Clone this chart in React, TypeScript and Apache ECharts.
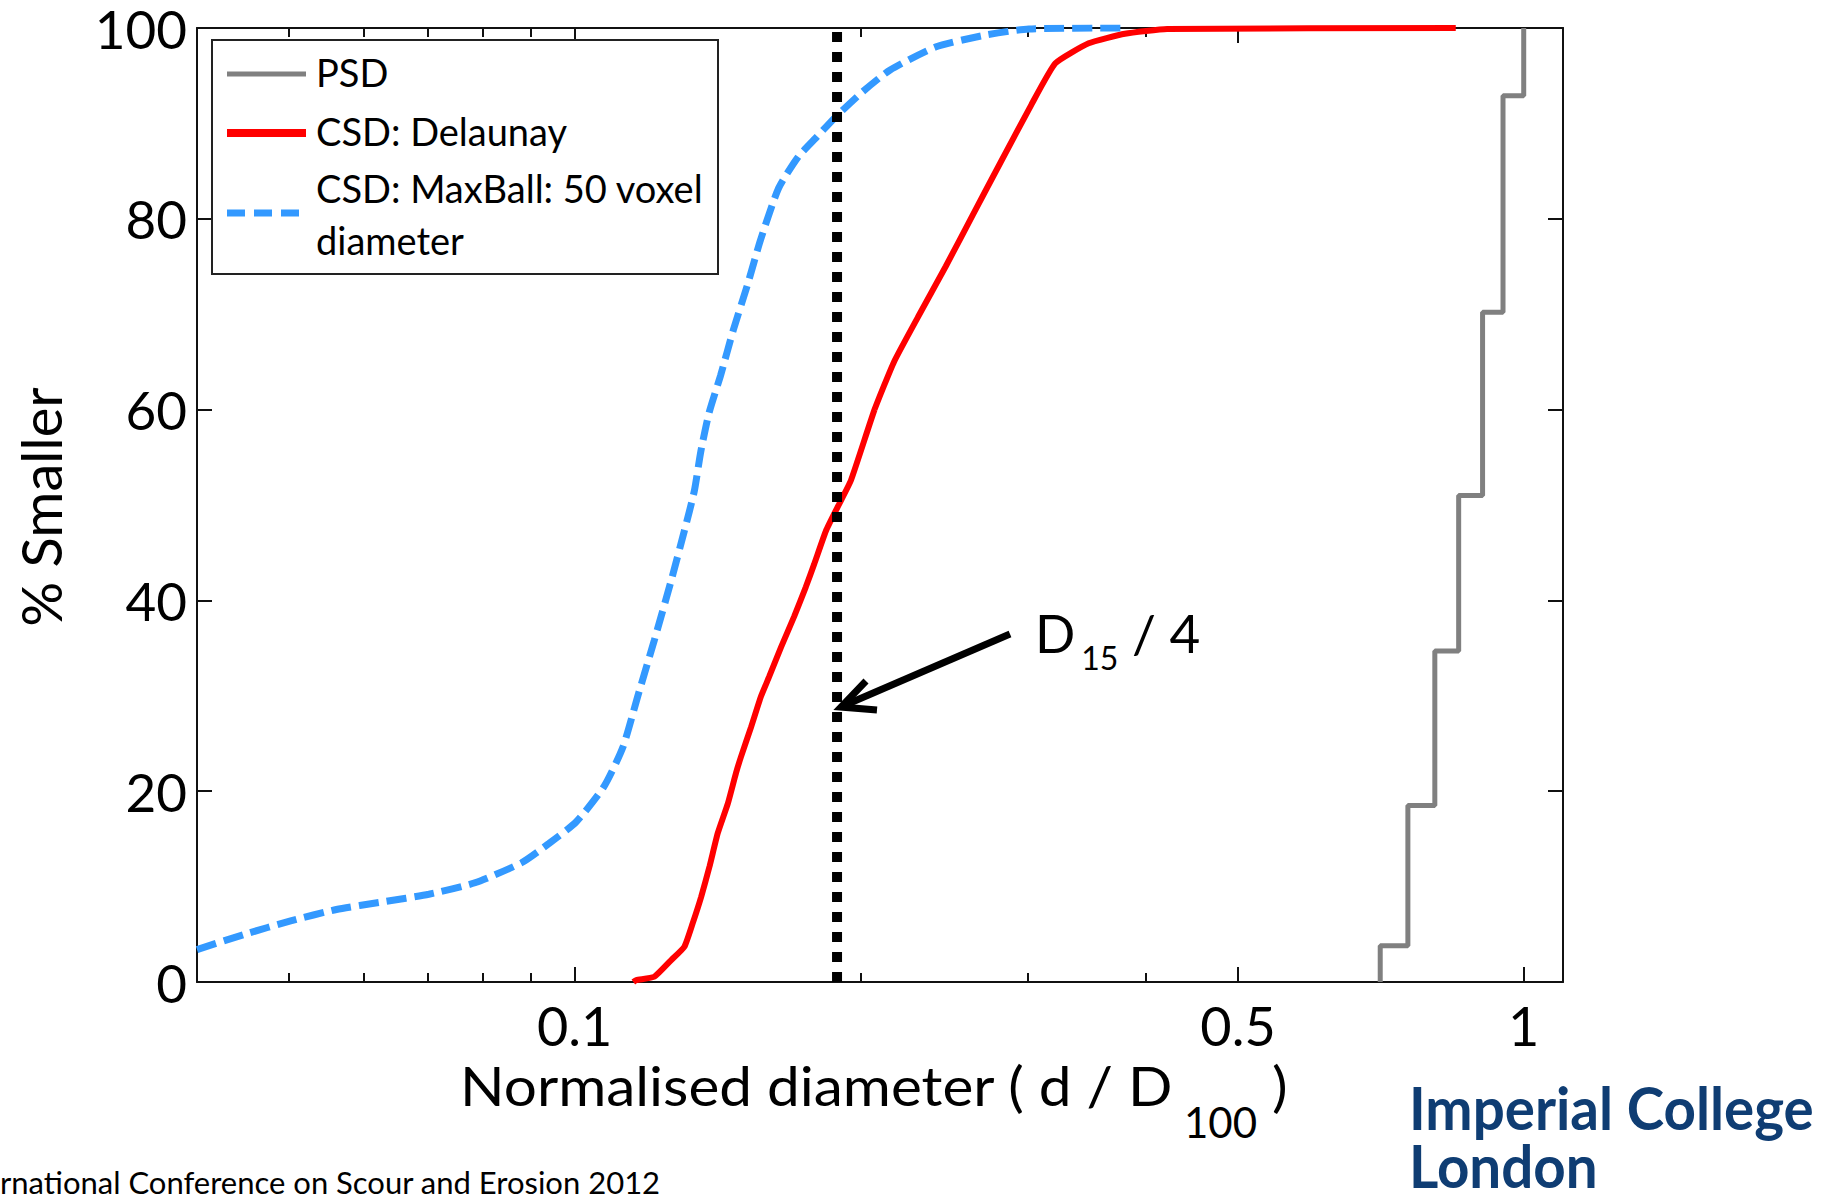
import React, { useEffect, useRef } from "react";
import * as echarts from "echarts";

const FONT = "Lato";
const W = 1836;
const H = 1203;

// ---- axes ----
const X_MIN = 0.04;
const X_MAX = 1.1;
const xMajorTicks = [0.1, 0.5, 1];
const xMinorTicks = [0.05, 0.06, 0.07, 0.08, 0.09, 0.2, 0.3, 0.4];
const Y_MIN = 0;
const Y_MAX = 100;
const Y_STEP = 20;

// ---- series ----
const seriesNames = ["PSD", "CSD: Delaunay", "CSD: MaxBall: 50 voxel diameter"];
const legendLabels = [["PSD"], ["CSD: Delaunay"], ["CSD: MaxBall: 50 voxel", "diameter"]];
const seriesColors = ["#808080", "#ff0000", "#3399ff"];

// PSD sieve sizes (d/D100) and % passing after each sieve step
const psdSizes = [0.706, 0.755, 0.806, 0.854, 0.905, 0.951, 1.0];
const psdPercent = [3.8, 18.5, 34.7, 51.0, 70.2, 92.9, 100];

// CSD: Delaunay
const delaunaySizes = [
  0.1153, 0.1161, 0.1213, 0.1264, 0.1305, 0.1331, 0.1359, 0.1387, 0.1415, 0.145, 0.1479, 0.1497,
  0.1534, 0.1571, 0.1603, 0.165, 0.1703, 0.1752, 0.1788, 0.184, 0.1893, 0.1955, 0.207, 0.217, 0.23,
  0.246, 0.263, 0.281, 0.303, 0.321, 0.348, 0.38, 0.421, 0.848,
];
const delaunayPercent = [
  0, 0.2, 0.55, 2.3, 3.7, 6.1, 8.9, 12.1, 15.6, 18.7, 21.9, 23.6, 26.7, 29.9, 32.0, 35.1, 38.3, 41.4,
  43.8, 47.3, 49.8, 52.6, 60.0, 65.0, 69.7, 75.0, 80.5, 85.9, 92.0, 96.3, 98.4, 99.4, 99.9, 100,
];

// CSD: MaxBall 50 voxel diameter
const maxballSizes = [
  0.04, 0.0449, 0.0502, 0.0561, 0.0628, 0.0702, 0.0785, 0.0879, 0.0939, 0.1004, 0.1074, 0.1124,
  0.1165, 0.1213, 0.1264, 0.1305, 0.1337, 0.1358, 0.1385, 0.1425, 0.147, 0.152, 0.157, 0.164, 0.172,
  0.18, 0.188, 0.201, 0.215, 0.24, 0.269, 0.301, 0.376,
];
const maxballPercent = [
  3.4, 5.0, 6.4, 7.6, 8.4, 9.2, 10.4, 12.5, 14.5, 16.8, 20.5, 24.6, 29.9, 35.8, 42.1, 47.3, 51.5,
  55.6, 59.6, 63.6, 68.4, 73.0, 77.8, 83.2, 86.5, 88.6, 90.6, 93.3, 95.6, 98.0, 99.2, 99.9, 100,
];

// D15 / 4 marker
const d15Over4 = 0.189;

const lg = (v: number) => Math.log10(v);

function buildStep(sizes: number[], pct: number[]) {
  const pts: number[][] = [];
  let prev = 0;
  sizes.forEach((s, i) => {
    pts.push([lg(s), prev]);
    pts.push([lg(s), pct[i]]);
    prev = pct[i];
  });
  return pts;
}

function pairs(sizes: number[], pct: number[]) {
  return sizes.map((s, i) => [lg(s), pct[i]]);
}

export default function App() {
  const ref = useRef<HTMLDivElement>(null);

  useEffect(() => {
    document.body.style.margin = "0";
    document.body.style.overflow = "hidden";
    if (!ref.current) return;
    const chart = echarts.init(ref.current, undefined, { renderer: "svg" });

    const cv = document.createElement("canvas");
    const ctx = cv.getContext("2d")!;
    const tw = (t: string, size: number, weight = "normal") => {
      ctx.font = `${weight} ${size}px ${FONT}`;
      return ctx.measureText(t).width;
    };
    // y for a 'middle'-aligned text so that its alphabetic baseline lands on `base`
    const mid = (base: number, size: number) => base - 0.387 * size;

    const txt = (text: string, x: number, base: number, size: number, opts: any = {}) => ({
      type: "text",
      x,
      y: mid(base, size),
      z: 100,
      silent: true,
      ...opts.el,
      style: {
        text,
        fontSize: size,
        fontFamily: FONT,
        fontWeight: opts.weight || "normal",
        fill: opts.color || "#000",
        align: opts.align || "left",
        verticalAlign: "middle",
        textAlign: opts.align || "left",
        textVerticalAlign: "middle",
        lineHeight: opts.lineHeight || Math.round(size * 0.8),
      },
    });

    const axisColor = "#111";
    const baseX = {
      type: "value",
      min: lg(X_MIN),
      max: lg(X_MAX),
      gridIndex: 0,
      splitLine: { show: false },
    };
    const tickStyle = { color: axisColor, width: 2 };

    // x-axis title
    const tMain = "Normalised diameter ( d / D";
    const tSub = "100";
    const tEnd = " )";
    const fMain = 54;
    const fSub = 42;
    const wMain = tw(tMain, fMain);
    const sMain = 714 / wMain;
    const wSub = tw(tSub, fSub);
    const xt0 = 460;
    const xSub = xt0 + wMain * sMain + 10;
    const xEnd = xSub + wSub;

    // D15/4 annotation
    const fD = 53;
    const fD2 = 32;
    const wD = tw("D", fD);
    const w15 = tw("15", fD2);
    const dx0 = 1035;

    // logo
    const fLogo = 60;
    const wLogo = tw("Imperial College", fLogo, "bold");
    const logoScale = 405 / wLogo;

    const graphics: any[] = [
      // legend box
      {
        type: "rect",
        z: 99,
        shape: { x: 212, y: 40, width: 506, height: 234 },
        style: { fill: "#fff", stroke: "#222", lineWidth: 2 },
      },
      {
        type: "line",
        z: 100,
        shape: { x1: 227, y1: 74, x2: 306, y2: 74 },
        style: { stroke: seriesColors[0], lineWidth: 5 },
      },
      {
        type: "line",
        z: 100,
        shape: { x1: 227, y1: 133, x2: 306, y2: 133 },
        style: { stroke: seriesColors[1], lineWidth: 8 },
      },
      {
        type: "line",
        z: 100,
        shape: { x1: 227, y1: 213, x2: 306, y2: 213 },
        style: { stroke: seriesColors[2], lineWidth: 7, lineDash: [18, 9] },
      },
      txt(legendLabels[0][0], 316, 74 + 13, 38),
      txt(legendLabels[1][0], 316, 133 + 13, 38),
      txt(legendLabels[2][0], 316, 190 + 13, 38),
      txt(legendLabels[2][1], 316, 242 + 13, 38),
      // y title
      {
        type: "text",
        x: 40,
        y: 507,
        rotation: Math.PI / 2,
        z: 100,
        style: {
          text: "% Smaller",
          fontSize: 56,
          fontFamily: FONT,
          fill: "#000",
          align: "center",
          verticalAlign: "middle",
          textAlign: "center",
          textVerticalAlign: "middle",
          lineHeight: 46,
        },
      },
      // x title
      txt(tMain, xt0, 1106, fMain, { el: { scaleX: sMain } }),
      txt(tSub, xSub, 1138, fSub),
      txt(tEnd, xEnd, 1106, fMain, { el: { scaleX: sMain } }),
      // annotation
      txt("D", dx0, 653, fD),
      txt("15", dx0 + wD + 6, 670, fD2),
      txt(" / 4", dx0 + wD + 6 + w15, 653, fD),
      {
        type: "line",
        z: 100,
        shape: { x1: 1010, y1: 634, x2: 843, y2: 706 },
        style: { stroke: "#000", lineWidth: 7 },
      },
      {
        type: "polyline",
        z: 100,
        shape: { points: [[866, 681], [841, 707], [877, 710]] },
        style: { stroke: "#000", lineWidth: 7, fill: null, lineJoin: "miter" },
      },
      // footer
      txt("rnational Conference on Scour and Erosion 2012", 0, 1194, 31, { lineHeight: 26 }),
      // logo
      txt("Imperial College", 1409, 1130, fLogo, {
        weight: "bold",
        color: "#0f3d73",
        el: { scaleX: logoScale },
        lineHeight: 48,
      }),
      txt("London", 1409, 1188, fLogo, {
        weight: "bold",
        color: "#0f3d73",
        el: { scaleX: logoScale },
        lineHeight: 46,
      }),
    ];

    const lineSeries = (name: string, data: number[][], color: string, width: number, type: any, smooth: any = false) => ({
      name,
      type: "line",
      data,
      symbol: "none",
      showSymbol: false,
      smooth,
      xAxisIndex: 0,
      yAxisIndex: 0,
      lineStyle: { color, width, type, cap: "butt" },
      itemStyle: { color },
      z: 3,
    });

    const axisLine = { show: true, onZero: false, lineStyle: { color: axisColor, width: 2 } };
    const noLine = { show: false, onZero: false };

    const option: any = {
      animation: false,
      backgroundColor: "#fff",
      grid: { left: 197, right: W - 1563, top: 26, bottom: H - 982, containLabel: false },
      xAxis: [
        {
          ...baseX,
          position: "bottom",
          axisLine,
          axisTick: { show: true, inside: true, length: 15, lineStyle: tickStyle, customValues: xMajorTicks.map(lg) },
          axisLabel: {
            show: true,
            customValues: xMajorTicks.map(lg),
            formatter: (v: number) => String(parseFloat(Math.pow(10, v).toPrecision(3))),
            fontSize: 54,
            fontFamily: FONT,
            color: "#000",
            margin: 22,
            lineHeight: 42,
          },
        },
        {
          ...baseX,
          position: "bottom",
          axisLine: noLine,
          axisTick: { show: true, inside: true, length: 9, lineStyle: tickStyle, customValues: xMinorTicks.map(lg) },
          axisLabel: { show: false },
        },
        {
          ...baseX,
          position: "top",
          axisLine,
          axisTick: { show: true, inside: true, length: 15, lineStyle: tickStyle, customValues: xMajorTicks.map(lg) },
          axisLabel: { show: false },
        },
        {
          ...baseX,
          position: "top",
          axisLine: noLine,
          axisTick: { show: true, inside: true, length: 9, lineStyle: tickStyle, customValues: xMinorTicks.map(lg) },
          axisLabel: { show: false },
        },
      ],
      yAxis: [
        {
          type: "value",
          min: Y_MIN,
          max: Y_MAX,
          interval: Y_STEP,
          position: "left",
          splitLine: { show: false },
          axisLine,
          axisTick: { show: true, inside: true, length: 15, lineStyle: tickStyle },
          axisLabel: {
            fontSize: 53,
            fontFamily: FONT,
            color: "#000",
            margin: 10,
            lineHeight: 40,
            padding: [16, 0, 0, 0],
          },
        },
        {
          type: "value",
          min: Y_MIN,
          max: Y_MAX,
          interval: Y_STEP,
          position: "right",
          splitLine: { show: false },
          axisLine,
          axisTick: { show: true, inside: true, length: 15, lineStyle: tickStyle },
          axisLabel: { show: false },
        },
      ],
      series: [
        lineSeries(seriesNames[0], buildStep(psdSizes, psdPercent), seriesColors[0], 5, "solid"),
        lineSeries(seriesNames[1], pairs(delaunaySizes, delaunayPercent), seriesColors[1], 6, "solid", 0.15),
        lineSeries(seriesNames[2], pairs(maxballSizes, maxballPercent), seriesColors[2], 7, [20, 8], 0.2),
        {
          ...lineSeries("D15 / 4", [[lg(d15Over4), Y_MIN], [lg(d15Over4), Y_MAX]], "#000", 10, [10, 10]),
          z: 4,
        },
      ],
      graphic: graphics,
    };

    chart.setOption(option);
    return () => chart.dispose();
  }, []);

  return <div ref={ref} style={{ width: W, height: H }} />;
}
